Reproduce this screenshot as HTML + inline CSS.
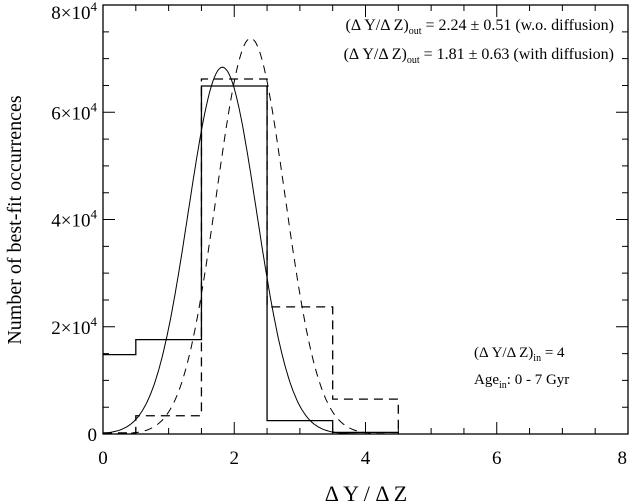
<!DOCTYPE html>
<html><head><meta charset="utf-8"><style>
body{margin:0;background:#fff}
svg{display:block;font-family:"Liberation Serif",serif}
</style></head><body>
<svg id="chart" width="629" height="504" viewBox="0 0 629 504">
<g id="frame"></g>
<g id="marks"></g>
<g id="labels"></g>
<text x="474" y="357" font-size="15">(Δ Y/Δ Z)<tspan dy="4" font-size="10">in</tspan><tspan dy="-4"> = 4</tspan></text>
<text x="474" y="384" font-size="15">Age<tspan dy="4" font-size="10">in</tspan><tspan dy="-4">:  0 - 7 Gyr</tspan></text>
<text x="366" y="501" text-anchor="middle" font-size="22">Δ Y / Δ Z</text>
<text transform="translate(21,220) rotate(-90)" text-anchor="middle" font-size="20">Number of best-fit occurrences</text>
</svg>
<script>
const binEdges=[0,0.5,1.5,2.5,3.5,4.5];
const solidCounts=[14800,17600,64900,2500,300];
const dashedCounts=[200,3400,66200,23700,6500];
const solidGauss=[1.82,0.52,68400];
const dashedGauss=[2.25,0.52,73800];
const xTicks=[0,2,4,6,8];
const yTicks=[0,2,4,6,8];
const annotations=[["(Δ Y/Δ Z)","out"," = 2.24 ± 0.51 (w.o. diffusion)"],["(Δ Y/Δ Z)","out"," = 1.81 ± 0.63 (with diffusion)"]];

const L=103,R=628,T=5,B=434;
const X=v=>L+v*(R-L)/8;
const Y=v=>B-v*(B-T)/80000;
const NS='http://www.w3.org/2000/svg';
function mk(tag,attrs,parent){const e=document.createElementNS(NS,tag);for(const k in attrs)e.setAttribute(k,attrs[k]);parent.appendChild(e);return e;}
const frame=document.getElementById('frame'),marks=document.getElementById('marks'),labels=document.getElementById('labels');

const box=mk('rect',{x:L,y:T,width:R-L,height:B-T,fill:'none',stroke:'#000','stroke-width':1.3},frame);


let tp='';
for(let i=0;i<=16;i++){const x=X(i*0.5);const len=i%4==0?12:6;tp+=`M${x},${B}v${-len}M${x},${T}v${len}`;}
for(let i=0;i<=16;i++){const y=Y(i*5000);const len=i%4==0?12:6;tp+=`M${L},${y}h${len}M${R},${y}h${-len}`;}
const ticks=mk('path',{d:tp,stroke:'#000','stroke-width':1,fill:'none'},frame);



xTicks.forEach(v=>{const last=v===8;const t=mk('text',{x:last?X(v)-1:X(v),y:B+30,'text-anchor':last?'end':'middle','font-size':19},labels);t.textContent=v;

});
yTicks.forEach(v=>{const t=mk('text',{x:97,y:Math.max(Y(v*10000)+7,19),'text-anchor':'end','font-size':19},labels);


if(v===0){t.textContent='0';}else{t.textContent=v+'×10';const s=mk('tspan',{dy:-8,'font-size':13},t);s.textContent='4';}});

function hist(counts,dash,name){let d='';for(let i=0;i<counts.length;i++){const x0=X(binEdges[i]),x1=X(binEdges[i+1]),y=Y(counts[i]);
d+=(i==0?`M${x0},${y}`:`L${x0},${y}`)+`L${x1},${y}`;}
d+=`L${X(binEdges[counts.length])},${B}`;
const p=mk('path',{d,fill:'none',stroke:'#000','stroke-width':1.3,'stroke-dasharray':dash},marks);

}
hist(solidCounts,'none','histogram-without-diffusion');
hist(dashedCounts,'9 6','histogram-with-diffusion');

function gauss(g,dash,name){let d='';for(let i=0;i<=200;i++){const v=i*5/200;const c=g[2]*Math.exp(-((v-g[0])**2)/(2*g[1]*g[1]));d+=(i?'L':'M')+X(v).toFixed(1)+','+Y(c).toFixed(1);}
const p=mk('path',{d,fill:'none',stroke:'#000','stroke-width':1,'stroke-dasharray':dash},marks);

}
gauss(solidGauss,'none','gaussian-fit-without-diffusion');
gauss(dashedGauss,'8 6','gaussian-fit-with-diffusion');

annotations.forEach((a,i)=>{const t=mk('text',{x:614,y:30+i*29,'text-anchor':'end','font-size':16},labels);


const s1=mk('tspan',{},t);s1.textContent=a[0];const s2=mk('tspan',{dy:4,'font-size':10},t);s2.textContent=a[1];const s3=mk('tspan',{dy:-4},t);s3.textContent=a[2];});
</script>
</body></html>
